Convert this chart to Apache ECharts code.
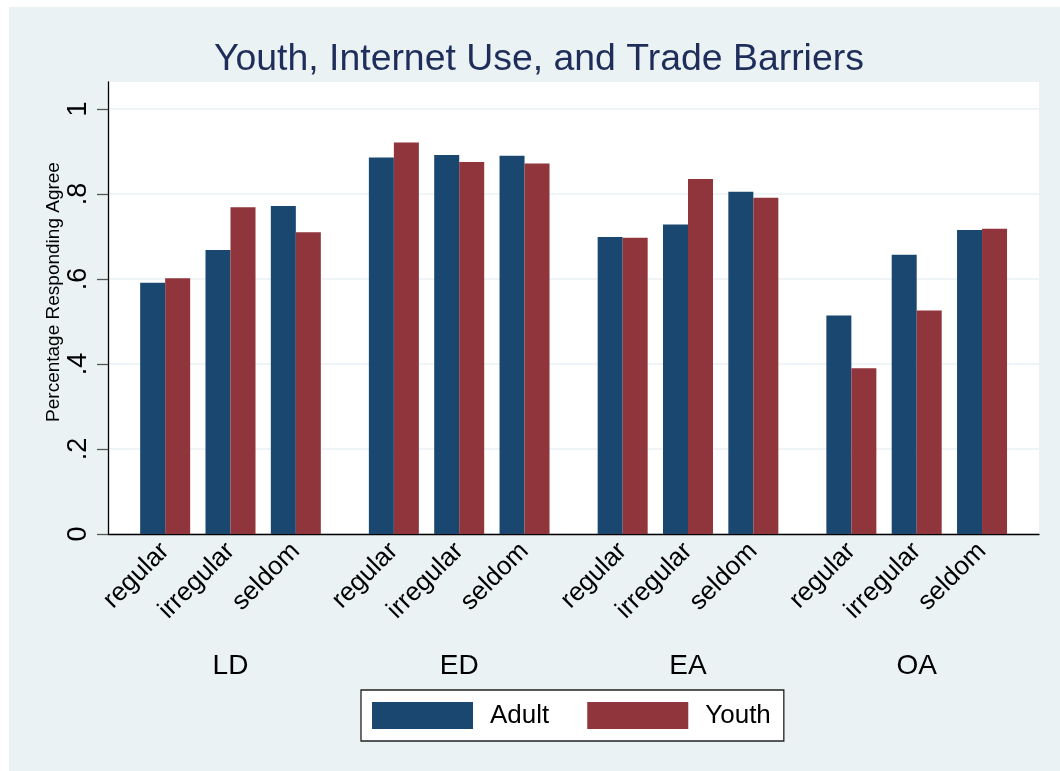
<!DOCTYPE html>
<html>
<head>
<meta charset="utf-8">
<script src="https://cdn.jsdelivr.net/npm/echarts@6/dist/echarts.min.js"></script>
<style>
  html, body { margin: 0; padding: 0; background: #ffffff; }
  #wrap { position: relative; width: 1060px; height: 771px; background: #ffffff; overflow: hidden; }
  #bg { position: absolute; left: 9px; top: 7px; width: 1051px; height: 764px; background: #eaf2f3; }
  #chart { position: absolute; left: 0; top: 0; width: 1060px; height: 771px; }
</style>
</head>
<body>
<div id="wrap"><div id="bg"></div><div id="chart"></div></div>
<script>
// ---- data ----
const groups = ['LD', 'ED', 'EA', 'OA'];
const usage = ['regular', 'irregular', 'seldom'];
const adultLD = [0.591, 0.668, 0.772];
const youthLD = [0.602, 0.769, 0.710];
const adultED = [0.886, 0.892, 0.890];
const youthED = [0.921, 0.875, 0.872];
const adultEA = [0.699, 0.728, 0.805];
const youthEA = [0.697, 0.835, 0.791];
const adultOA = [0.514, 0.657, 0.715];
const youthOA = [0.390, 0.526, 0.718];
const yTicks = [0, 0.2, 0.4, 0.6, 0.8, 1];
const seriesNames = ['Adult', 'Youth'];

const adultByGroup = [adultLD, adultED, adultEA, adultOA];
const youthByGroup = [youthLD, youthED, youthEA, youthOA];

// ---- styling / layout ----
const FONT = 'Liberation Sans, Arial, Helvetica, sans-serif';
const ADULT_COLOR = '#1a476f';
const YOUTH_COLOR = '#90353b';
const Y_MAX = 1.0635;
const PLOT_TOP = 82, PLOT_BOTTOM = 237, PLOT_LEFT = 108, PLOT_RIGHT = 21;
const GROUP_LEFTS = [132.5, 361.2, 590, 818.7];
const GROUP_WIDTH = 196;

const fmt = v => {
  const s = String(parseFloat(Number(v).toFixed(2)));
  return s.replace(/^0\./, '.');
};

const grids = [{
  left: PLOT_LEFT, right: PLOT_RIGHT, top: PLOT_TOP, bottom: PLOT_BOTTOM,
  show: true, backgroundColor: '#ffffff', borderWidth: 0
}];
const xAxes = [{
  gridIndex: 0, type: 'category', data: [''],
  axisLine: { show: true, lineStyle: { color: '#000000', width: 1.3 } },
  axisTick: { show: false }, axisLabel: { show: false }, splitLine: { show: false }
}];
const yAxes = [{
  gridIndex: 0, type: 'value', min: 0, max: Y_MAX, interval: 0.2,
  name: 'Percentage Responding Agree', nameLocation: 'middle', nameGap: 45,
  nameRotate: 90, nameMoveOverlap: false,
  nameTextStyle: { fontFamily: FONT, fontSize: 19, color: '#000000', padding: [0, 0, 0, 32] },
  axisLine: { show: true, lineStyle: { color: '#000000', width: 1.3 } },
  axisTick: { show: true, inside: false, length: 11, customValues: yTicks, lineStyle: { color: '#555555', width: 1.3 } },
  axisLabel: { show: true, rotate: 90, margin: 16, customValues: yTicks,
    fontFamily: FONT, fontSize: 27, color: '#000000', formatter: fmt },
  splitLine: { show: true, lineStyle: { color: '#eaf2f3', width: 1.6 } }
}];
const series = [];

groups.forEach((g, i) => {
  const gi = i + 1;
  grids.push({ left: GROUP_LEFTS[i], width: GROUP_WIDTH, top: PLOT_TOP, bottom: PLOT_BOTTOM, show: false });
  xAxes.push({
    gridIndex: gi, type: 'category', data: usage,
    name: g, nameLocation: 'middle', nameGap: 118, nameMoveOverlap: false,
    nameTextStyle: { fontFamily: FONT, fontSize: 28, color: '#000000' },
    axisLine: { show: false }, axisTick: { show: false },
    axisLabel: { rotate: 45, margin: 13, interval: 0, fontFamily: FONT, fontSize: 26, color: '#000000' },
    splitLine: { show: false }
  });
  yAxes.push({ gridIndex: gi, type: 'value', min: 0, max: Y_MAX, show: false, splitLine: { show: false } });
  series.push({
    name: seriesNames[0], type: 'bar', xAxisIndex: gi, yAxisIndex: gi,
    data: adultByGroup[i], barWidth: 25, barGap: '0%',
    itemStyle: { color: ADULT_COLOR }, emphasis: { disabled: true }, animation: false
  });
  series.push({
    name: seriesNames[1], type: 'bar', xAxisIndex: gi, yAxisIndex: gi,
    data: youthByGroup[i], barWidth: 25, barGap: '0%',
    itemStyle: { color: YOUTH_COLOR }, emphasis: { disabled: true }, animation: false
  });
});

const chart = echarts.init(document.getElementById('chart'), null, { renderer: 'canvas' });
chart.setOption({
  backgroundColor: 'transparent',
  animation: false,
  title: {
    text: 'Youth, Internet Use, and Trade Barriers',
    left: 214, top: 41, padding: 0,
    textStyle: { fontFamily: FONT, fontSize: 37.4, fontWeight: 'normal', color: '#1e2d5a' }
  },
  legend: {
    data: seriesNames,
    left: 361, top: 690,
    orient: 'horizontal',
    backgroundColor: '#ffffff', borderColor: '#222222', borderWidth: 1.3, borderRadius: 0,
    padding: [12, 13, 12, 11],
    itemWidth: 101, itemHeight: 27, itemGap: 38,
    icon: 'rect',
    selectedMode: false,
    textStyle: { fontFamily: FONT, fontSize: 26, color: '#000000', padding: [0, 0, 0, 12] }
  },
  grid: grids,
  xAxis: xAxes,
  yAxis: yAxes,
  series: series
});
</script>
</body>
</html>
